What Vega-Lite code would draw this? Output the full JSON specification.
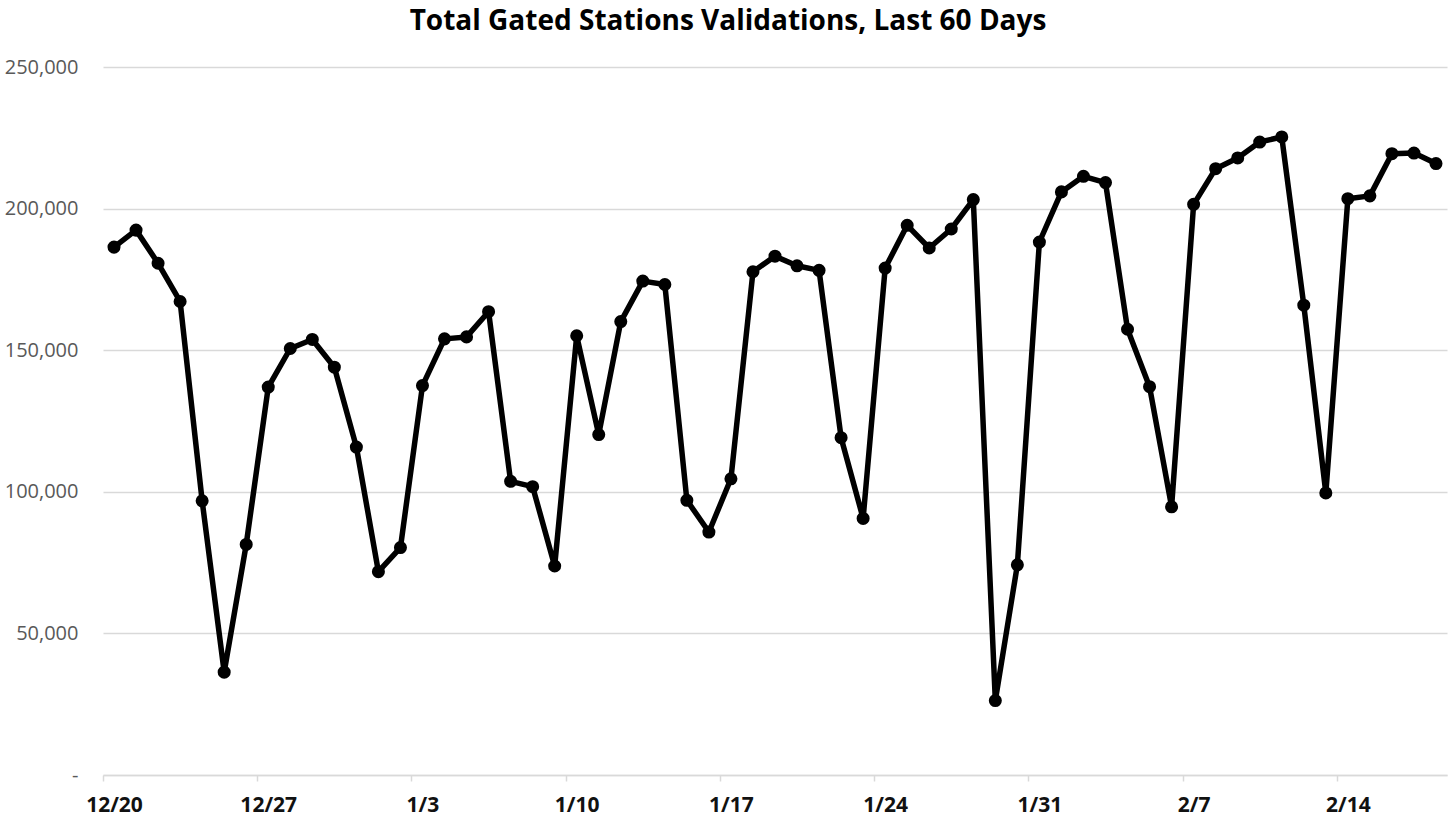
{
  "$schema": "https://vega.github.io/schema/vega-lite/v6.json",
  "width": 1344,
  "height": 708,
  "autosize": {"type": "none"},
  "padding": {"left": 103, "top": 67, "right": 3, "bottom": 43},
  "background": "white",
  "title": {
    "text": "Total Gated Stations Validations, Last 60 Days",
    "font": "Open Sans",
    "fontSize": 28,
    "fontWeight": "bold",
    "color": "#000000",
    "anchor": "middle",
    "baseline": "alphabetic",
    "dx": -47,
    "offset": -1
  },
  "data": {
    "values": [
      {"date": "2020-12-20T12:00:00", "validations": 186400},
      {"date": "2020-12-21T12:00:00", "validations": 192400},
      {"date": "2020-12-22T12:00:00", "validations": 180700},
      {"date": "2020-12-23T12:00:00", "validations": 167200},
      {"date": "2020-12-24T12:00:00", "validations": 96800},
      {"date": "2020-12-25T12:00:00", "validations": 36300},
      {"date": "2020-12-26T12:00:00", "validations": 81400},
      {"date": "2020-12-27T12:00:00", "validations": 137000},
      {"date": "2020-12-28T12:00:00", "validations": 150600},
      {"date": "2020-12-29T12:00:00", "validations": 153800},
      {"date": "2020-12-30T12:00:00", "validations": 144000},
      {"date": "2020-12-31T12:00:00", "validations": 115800},
      {"date": "2021-01-01T12:00:00", "validations": 71800},
      {"date": "2021-01-02T12:00:00", "validations": 80300},
      {"date": "2021-01-03T12:00:00", "validations": 137500},
      {"date": "2021-01-04T12:00:00", "validations": 154000},
      {"date": "2021-01-05T12:00:00", "validations": 154700},
      {"date": "2021-01-06T12:00:00", "validations": 163600},
      {"date": "2021-01-07T12:00:00", "validations": 103700},
      {"date": "2021-01-08T12:00:00", "validations": 101800},
      {"date": "2021-01-09T12:00:00", "validations": 73800},
      {"date": "2021-01-10T12:00:00", "validations": 155100},
      {"date": "2021-01-11T12:00:00", "validations": 120200},
      {"date": "2021-01-12T12:00:00", "validations": 160100},
      {"date": "2021-01-13T12:00:00", "validations": 174400},
      {"date": "2021-01-14T12:00:00", "validations": 173200},
      {"date": "2021-01-15T12:00:00", "validations": 97000},
      {"date": "2021-01-16T12:00:00", "validations": 85800},
      {"date": "2021-01-17T12:00:00", "validations": 104600},
      {"date": "2021-01-18T12:00:00", "validations": 177700},
      {"date": "2021-01-19T12:00:00", "validations": 183200},
      {"date": "2021-01-20T12:00:00", "validations": 179800},
      {"date": "2021-01-21T12:00:00", "validations": 178200},
      {"date": "2021-01-22T12:00:00", "validations": 119100},
      {"date": "2021-01-23T12:00:00", "validations": 90600},
      {"date": "2021-01-24T12:00:00", "validations": 179000},
      {"date": "2021-01-25T12:00:00", "validations": 194100},
      {"date": "2021-01-26T12:00:00", "validations": 186100},
      {"date": "2021-01-27T12:00:00", "validations": 192800},
      {"date": "2021-01-28T12:00:00", "validations": 203200},
      {"date": "2021-01-29T12:00:00", "validations": 26300},
      {"date": "2021-01-30T12:00:00", "validations": 74200},
      {"date": "2021-01-31T12:00:00", "validations": 188200},
      {"date": "2021-02-01T12:00:00", "validations": 205900},
      {"date": "2021-02-02T12:00:00", "validations": 211400},
      {"date": "2021-02-03T12:00:00", "validations": 209200},
      {"date": "2021-02-04T12:00:00", "validations": 157400},
      {"date": "2021-02-05T12:00:00", "validations": 137100},
      {"date": "2021-02-06T12:00:00", "validations": 94700},
      {"date": "2021-02-07T12:00:00", "validations": 201500},
      {"date": "2021-02-08T12:00:00", "validations": 214100},
      {"date": "2021-02-09T12:00:00", "validations": 217900},
      {"date": "2021-02-10T12:00:00", "validations": 223500},
      {"date": "2021-02-11T12:00:00", "validations": 225300},
      {"date": "2021-02-12T12:00:00", "validations": 165900},
      {"date": "2021-02-13T12:00:00", "validations": 99600},
      {"date": "2021-02-14T12:00:00", "validations": 203500},
      {"date": "2021-02-15T12:00:00", "validations": 204500},
      {"date": "2021-02-16T12:00:00", "validations": 219400},
      {"date": "2021-02-17T12:00:00", "validations": 219600},
      {"date": "2021-02-18T12:00:00", "validations": 215900}
    ]
  },
  "encoding": {
    "x": {
      "field": "date",
      "type": "temporal",
      "scale": {"domain": [{"year": 2020, "month": 12, "date": 20}, {"year": 2021, "month": 2, "date": 19}]},
      "axis": {
        "title": null,
        "grid": false,
        "tickCount": {"interval": "week", "step": 1},
        "format": "%-m/%-d",
        "labelOffset": 11,
        "labelFlush": false,
        "labelOverlap": false,
        "domainColor": "#d9d9d9",
        "domainWidth": 1.5,
        "tickColor": "#d9d9d9",
        "tickWidth": 1.5,
        "tickSize": 6,
        "labelFont": "Open Sans",
        "labelFontSize": 21,
        "labelFontWeight": "bold",
        "labelColor": "#111111",
        "labelPadding": 13
      }
    },
    "y": {
      "field": "validations",
      "type": "quantitative",
      "scale": {"domain": [0, 250000], "nice": false},
      "axis": {
        "title": null,
        "values": [0, 50000, 100000, 150000, 200000, 250000],
        "labelExpr": "datum.value === 0 ? '-\u00a0\u00a0' : format(datum.value, ',')",
        "domain": false,
        "ticks": false,
        "gridColor": "#d9d9d9",
        "gridWidth": 1.5,
        "labelPadding": 25,
        "labelFont": "Open Sans",
        "labelFontSize": 20,
        "labelColor": "#595959"
      }
    }
  },
  "layer": [
    {"mark": {"type": "line", "color": "#000000", "strokeWidth": 5.5, "strokeJoin": "round"}},
    {"mark": {"type": "point", "filled": true, "color": "#000000", "opacity": 1, "size": 170}}
  ],
  "config": {"view": {"stroke": null}}
}
